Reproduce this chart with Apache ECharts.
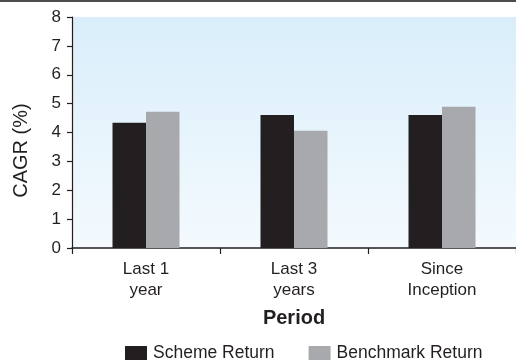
<!DOCTYPE html>
<html>
<head>
<meta charset="utf-8">
<script src="https://cdn.jsdelivr.net/npm/echarts@6/dist/echarts.min.js"></script>
<style>
  html, body { margin: 0; padding: 0; background: #ffffff; }
  #chart { width: 516px; height: 360px; }
</style>
</head>
<body>
<div id="chart"></div>
<script>
// Compound annual growth rate by holding period
const periods = ['Last 1\nyear', 'Last 3\nyears', 'Since\nInception'];
const schemeReturn = [4.34, 4.61, 4.61];
const benchmarkReturn = [4.72, 4.06, 4.89];
const yTicks = { min: 0, max: 8, step: 1 };

const FONT = '"Liberation Sans", Arial, Helvetica, sans-serif';
const INK = '#231f20';

const chart = echarts.init(document.getElementById('chart'), null, { renderer: 'canvas' });

chart.setOption({
  animation: false,
  textStyle: { fontFamily: FONT, color: INK },
  graphic: [
    // thin rule across the top of the figure
    { type: 'rect', left: 0, top: 0, shape: { width: 516, height: 2 }, style: { fill: '#4d4d4d' }, silent: true }
  ],
  grid: {
    left: 72, top: 17, right: -6, bottom: 112,
    show: true,
    borderWidth: 0,
    backgroundColor: {
      type: 'linear', x: 0, y: 0, x2: 0, y2: 1,
      colorStops: [
        { offset: 0, color: '#d9eefa' },
        { offset: 1, color: '#f4fafe' }
      ]
    }
  },
  legend: {
    left: 120,
    top: 339,
    itemWidth: 22,
    itemHeight: 14,
    itemGap: 34,
    icon: 'rect',
    textStyle: { fontFamily: FONT, fontSize: 17.5, color: INK, padding: [0, 0, 0, 1] },
    data: ['Scheme Return', 'Benchmark Return']
  },
  xAxis: {
    type: 'category',
    data: periods,
    name: 'Period',
    nameLocation: 'middle',
    nameGap: 60,
    nameTextStyle: { fontFamily: FONT, fontSize: 20, fontWeight: 'bold', color: INK },
    axisLine: { lineStyle: { color: INK, width: 1.5 } },
    axisTick: { show: true, length: 6, alignWithLabel: false, lineStyle: { color: INK, width: 1.2 } },
    axisLabel: { fontFamily: FONT, fontSize: 17, lineHeight: 21, color: INK, margin: 11 },
    splitLine: { show: false }
  },
  yAxis: {
    type: 'value',
    min: yTicks.min,
    max: yTicks.max,
    interval: yTicks.step,
    name: 'CAGR (%)',
    nameLocation: 'middle',
    nameRotate: 90,
    nameGap: 41,
    nameTextStyle: { fontFamily: FONT, fontSize: 20, color: INK, padding: [0, 36, 0, 0] },
    axisLine: { show: true, lineStyle: { color: INK, width: 1.2 } },
    axisTick: { show: true, length: 5, lineStyle: { color: INK, width: 1.2 } },
    axisLabel: { fontFamily: FONT, fontSize: 17, color: INK, margin: 11 },
    splitLine: { show: false }
  },
  series: [
    {
      name: 'Scheme Return',
      type: 'bar',
      data: schemeReturn,
      barWidth: 33.5,
      barGap: '0%',
      itemStyle: { color: '#231f20' }
    },
    {
      name: 'Benchmark Return',
      type: 'bar',
      data: benchmarkReturn,
      barWidth: 33.5,
      barGap: '0%',
      itemStyle: { color: '#a7a9ac' }
    }
  ]
});
</script>
</body>
</html>
